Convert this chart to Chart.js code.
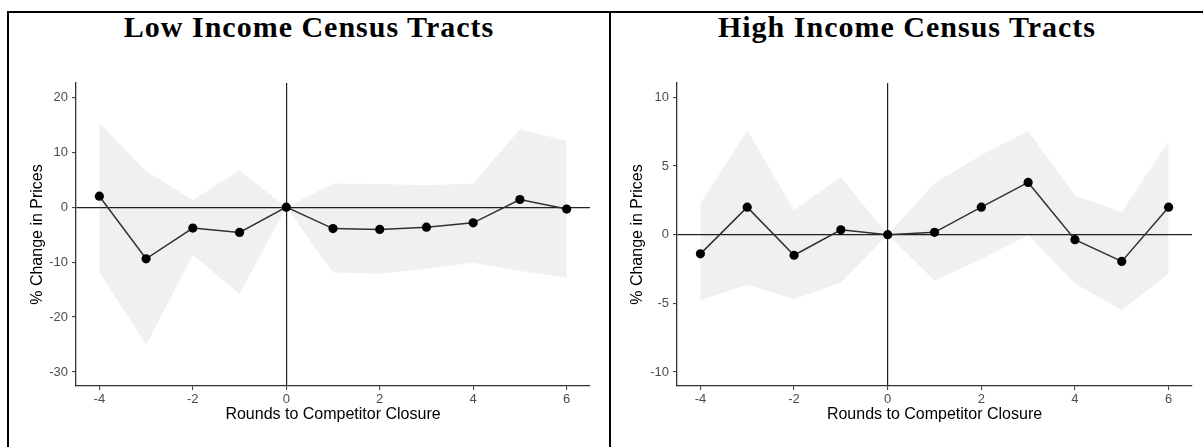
<!DOCTYPE html>
<html>
<head>
<meta charset="utf-8">
<script src="https://cdn.jsdelivr.net/npm/chart.js@4.4.1/dist/chart.umd.min.js"></script>
<style>
  html, body { margin: 0; padding: 0; background: #fff; overflow: hidden; width: 1203px; height: 447px; }
  .frame { position: absolute; left: 7px; top: 11px; width: 1300px; height: 500px; border-top: 2px solid #000; border-left: 2px solid #000; }
  .divider { position: absolute; left: 609px; top: 11px; width: 2px; height: 500px; background: #000; }
  .title { position: absolute; top: 12px; font-family: "Liberation Serif", "Times New Roman", serif; font-weight: bold; font-size: 30px; letter-spacing: 1px; line-height: 1; text-align: center; color: #000; }
  canvas { position: absolute; }
</style>
</head>
<body>
<div class="frame"></div>
<div class="divider"></div>
<div class="title" style="left:9px;width:600px;">Low Income Census Tracts</div>
<div class="title" style="left:611px;width:592px;">High Income Census Tracts</div>
<canvas id="lowChart" width="590" height="390" style="left:12px;top:50px;"></canvas>
<canvas id="highChart" width="585" height="390" style="left:613px;top:50px;"></canvas>
<script>
// rounds relative to the competitor closure
const rounds = [-4, -3, -2, -1, 0, 1, 2, 3, 4, 5, 6];
const xTicks = [-4, -2, 0, 2, 4, 6];

// low income tracts
const lowEst   = [2.0, -9.4, -3.8, -4.6, 0, -3.9, -4.05, -3.65, -2.85, 1.4, -0.35];
const lowUpper = [15.3, 6.6, 1.3, 6.7, 0, 4.3, 4.2, 4.0, 4.3, 14.2, 12.1];
const lowLower = [-11.8, -25.1, -8.7, -15.8, 0, -11.9, -12.1, -11.2, -10.1, -11.6, -12.8];
const lowYTicks = [20, 10, 0, -10, -20, -30];

// high income tracts
const highEst   = [-1.4, 2.0, -1.5, 0.35, 0, 0.17, 2.0, 3.8, -0.37, -1.95, 2.0];
const highUpper = [2.25, 7.6, 1.8, 4.2, 0, 3.75, 5.8, 7.55, 2.85, 1.65, 6.8];
const highLower = [-4.8, -3.65, -4.7, -3.5, 0, -3.35, -1.8, -0.05, -3.55, -5.5, -2.85];
const highYTicks = [10, 5, 0, -5, -10];

const toPoints = vals => rounds.map((r, i) => ({ x: r, y: vals[i] }));

function makeChart(canvasId, est, upper, lower, yTicks, yMin, yMax, yTitlePad, padRight) {
  const canvas = document.getElementById(canvasId);
  const tickFont = { family: 'Liberation Sans, Arial, sans-serif', size: 13 };
  const titleFont = { family: 'Liberation Sans, Arial, sans-serif', size: 16 };
  const zeroLine = ctx => ctx.tick && ctx.tick.value === 0 ? '#222' : 'rgba(0,0,0,0)';

  return new Chart(canvas, {
    type: 'line',
    data: {
      datasets: [
        {
          data: toPoints(upper),
          borderWidth: 0,
          pointRadius: 0,
          fill: false,
        },
        {
          data: toPoints(lower),
          borderWidth: 0,
          pointRadius: 0,
          backgroundColor: 'rgba(0,0,0,0.06)',
          fill: '-1',
        },
        {
          data: toPoints(est),
          borderColor: '#333',
          borderWidth: 1.5,
          pointRadius: 4.6,
          pointBackgroundColor: '#000',
          pointBorderColor: '#000',
          pointBorderWidth: 0,
          fill: false,
          tension: 0,
        }
      ]
    },
    options: {
      responsive: false,
      animation: false,
      layout: { padding: { top: 33, right: padRight, left: 0, bottom: 0 } },
      plugins: {
        legend: { display: false },
        tooltip: { enabled: false }
      },
      scales: {
        x: {
          type: 'linear',
          min: -4.5,
          max: 6.5,
          afterBuildTicks: axis => { axis.ticks = xTicks.map(v => ({ value: v })); },
          afterFit: scale => { scale.height = 54; },
          ticks: { font: tickFont, color: '#4d4d4d', padding: 2 },
          grid: { color: zeroLine, lineWidth: 1.2, tickColor: '#333', tickLength: 4, tickWidth: 1 },
          border: { display: true, color: '#333', width: 1.3 },
          title: { display: true, text: 'Rounds to Competitor Closure', font: titleFont, color: '#000', padding: { top: 0, bottom: 16 } }
        },
        y: {
          min: yMin,
          max: yMax,
          afterBuildTicks: axis => { axis.ticks = yTicks.map(v => ({ value: v })); },
          afterFit: scale => { scale.width = 64; },
          ticks: { font: tickFont, color: '#4d4d4d', padding: 4 },
          grid: { color: zeroLine, lineWidth: 1.2, tickColor: '#333', tickLength: 4, tickWidth: 1 },
          border: { display: true, color: '#333', width: 1.3 },
          title: { display: true, text: '% Change in Prices', font: titleFont, color: '#000', padding: { top: yTitlePad, bottom: 0 } }
        }
      }
    }
  });
}

makeChart('lowChart', lowEst, lowUpper, lowLower, lowYTicks, -32.55, 22.6, 16, 12);
makeChart('highChart', highEst, highUpper, highLower, highYTicks, -11.02, 11.04, 15, 6);
</script>
</body>
</html>
